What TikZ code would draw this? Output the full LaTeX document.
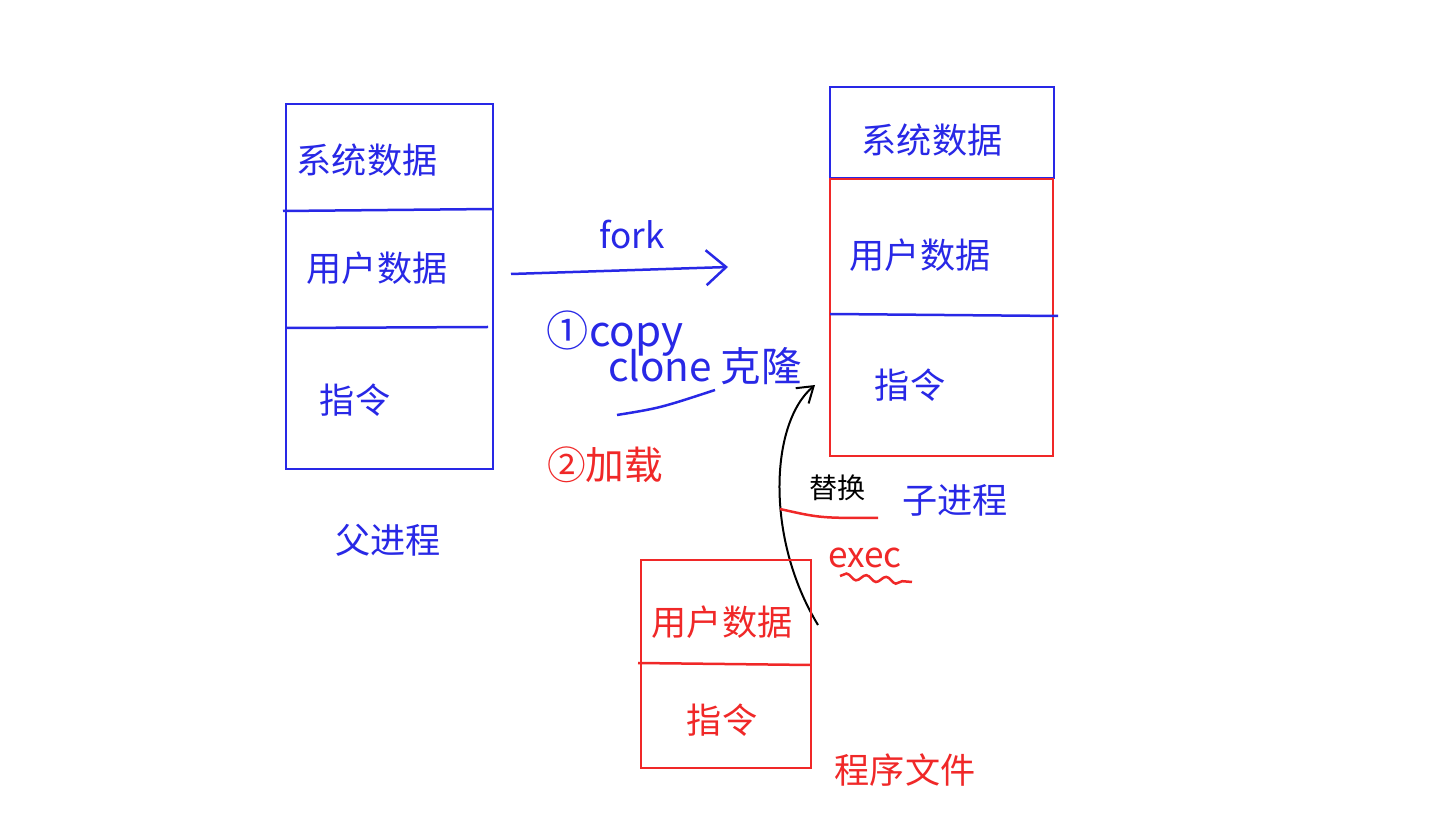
\documentclass[tikz,border=0pt]{standalone}
\usepackage{fontspec}
\newfontfamily\cjk{Noto Sans CJK SC}
\usetikzlibrary{arrows.meta,decorations.pathmorphing}
\definecolor{penblue}{RGB}{40,40,230}
\definecolor{penred}{RGB}{240,40,40}
\tikzset{
	blueline/.style={draw=penblue, line width=0.5mm},
	redline/.style={draw=penred, line width=0.5mm},
	bluetext/.style={text=penblue, font=\cjk\fontsize{20}{24}\selectfont},
	redtext/.style={text=penred, font=\cjk\fontsize{20}{24}\selectfont},
	blacktext/.style={text=black, font=\cjk\fontsize{16}{20}\selectfont},
}

\begin{document}
\begin{tikzpicture}
		%%%%% START %%%%%
		\useasboundingbox[fill=white] (0, 0) rectangle (28.8, 16.36);
		
		% parent process
		\draw[blueline] (5.72, 6.98) rectangle (9.86, 14.28);
		\draw[blueline] (5.66, 12.14) -- (9.86, 12.18);
		\draw[blueline] (5.72, 9.8) -- (9.76, 9.82);
		\node[bluetext] (psys) at (7.34, 13.16) {系统数据};
		\node[bluetext] (puser) at (7.54, 11.0) {用户数据};
		\node[bluetext] (pins) at (7.1, 8.36) {指令};
		\node[bluetext] (parent) at (7.76, 5.56) {父进程};
		
		% fork
		\coordinate (forkfrom) at (10.22, 10.88);
		\coordinate (forkto) at (14.56, 11.02);
		\draw[blueline, -{Straight Barb[length=4mm, width=7mm]}] (forkfrom) -- (forkto);
		\node[bluetext] (fork) at (12.64, 11.66) {fork};
		\node[bluetext, font=\cjk\fontsize{24}{28}\selectfont] (copy) at (12.3, 9.68) {①copy};
		\node[bluetext, font=\cjk\fontsize{23}{28}\selectfont] (clone) at (14.1, 9.04) {clone 克隆};
		\draw[blueline] (12.34, 8.06) .. controls (13.2, 8.2) .. (14.3, 8.56);
		\node[redtext, font=\cjk\fontsize{22}{26}\selectfont] (load) at (12.1, 7.06) {②加载};
		
		% child process
		\draw[blueline] (16.6, 12.8) rectangle (21.08, 14.62);
		\draw[redline] (16.6, 7.24) rectangle (21.06, 12.78);
		\draw[blueline] (16.6, 10.08) -- (21.16, 10.04);
		\node[bluetext] (csys) at (18.64, 13.56) {系统数据};
		\node[bluetext] (cuser) at (18.4, 11.26) {用户数据};
		\node[bluetext] (cins) at (18.2, 8.66) {指令};
		\node[bluetext] (child) at (19.1, 6.36) {子进程};
		
		% exec
		\coordinate (execfrom) at (16.36, 3.86);
		\coordinate (execto) at (16.3, 8.66);
		\draw[line width=0.4mm, -{Straight Barb[length=3mm, width=4mm]}] (execfrom) .. controls (15.3, 5.6) and (15.4, 7.9) .. (execto);
		\node[blacktext] (replace) at (16.75, 6.6) {替换};
		\draw[redline] (15.6, 6.18) .. controls (16.4, 6.0) .. (17.56, 6.0);
		\node[redtext] (exec) at (17.3, 5.2) {exec};
		\draw[redline, decorate, decoration={snake, amplitude=0.6mm, segment length=4mm}] (16.8, 4.84) -- (18.24, 4.72);
		
		% program file
		\draw[redline] (12.82, 1.0) rectangle (16.22, 5.16);
		\draw[redline] (12.76, 3.1) -- (16.22, 3.06);
		\node[redtext] (fuser) at (14.44, 3.92) {用户数据};
		\node[redtext] (fins) at (14.44, 1.96) {指令};
		\node[redtext] (file) at (18.1, 0.96) {程序文件};
		
		%%%%% END %%%%%
\end{tikzpicture}
\end{document}
